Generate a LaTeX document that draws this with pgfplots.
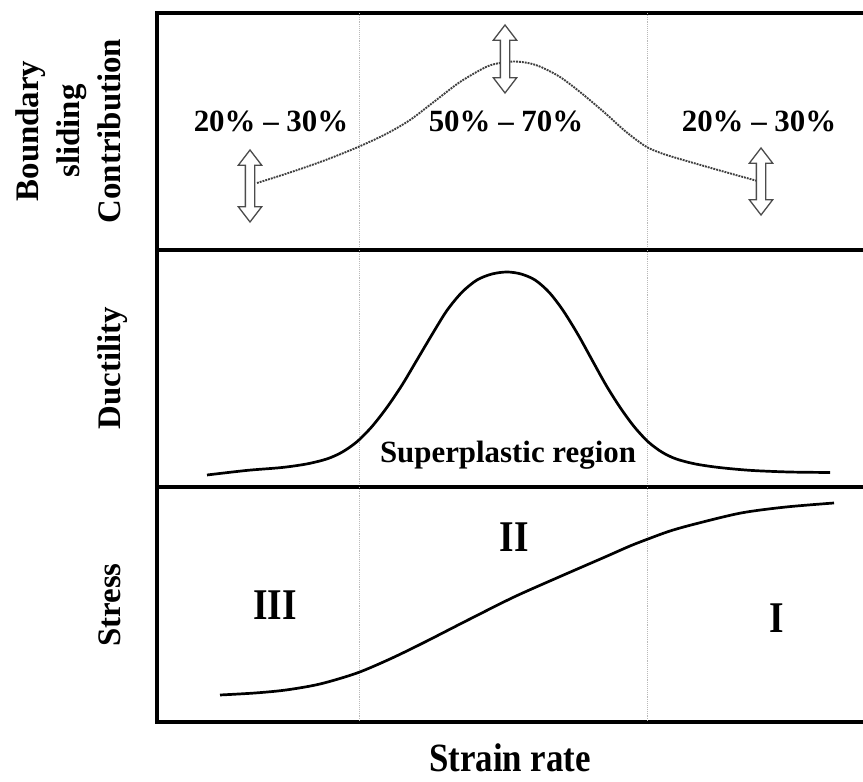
\documentclass[border=0pt]{standalone}
\usepackage{fontspec}
\setmainfont{Liberation Serif}
\usepackage{pgfplots}
\pgfplotsset{compat=1.18}
\usetikzlibrary{shapes.arrows}

\begin{document}
\begin{tikzpicture}[x=1bp,y=1bp]
\path[use as bounding box] (0,0) rectangle (863,782);
\pgfplotsset{
  panel/.style={scale only axis, width=713bp, xmin=157, xmax=870,
    y dir=reverse, xtick=\empty, ytick=\empty, anchor=south west,
    axis line style={line width=3.2bp, black}},
  vline/.style={gray!55, densely dotted, line width=0.9bp},
  curve/.style={smooth, black, line width=2.7bp},
}
\tikzset{
  dbl/.style={double arrow, draw=gray!60!black, fill=white, line width=1.3bp,
    rotate=90, inner sep=4bp, double arrow head extend=7bp,
    double arrow tip angle=75},
  lab/.style={font=\bfseries\fontsize{31}{37}\selectfont},
  ylab/.style={font=\bfseries\fontsize{33}{39}\selectfont, rotate=90, anchor=base},
}
% ---------- top panel ----------
\begin{axis}[panel, at={(157bp,532bp)}, height=237bp, ymin=13, ymax=250]
\addplot[vline] coordinates {(359,13) (359,250)};
\addplot[vline] coordinates {(647,13) (647,250)};
\addplot[smooth, densely dotted, line width=1.9bp, gray!50!black] coordinates {
 (257,183) (290,172.5) (323,161) (357,147.5) (386,134) (410,120) (435,101)
 (460,82) (486,67) (500,63) (514,61.5) (528,63) (541,67) (560,77) (580,92)
 (605,113) (625,131) (645,146) (658,152) (673,157) (718,170) (761,182)};
\node[dbl, minimum height=72bp] at (axis cs:250,186) {};
\node[dbl, minimum height=68bp] at (axis cs:505,59) {};
\node[dbl, minimum height=67bp] at (axis cs:761,181.5) {};
\node[lab, anchor=base] at (axis cs:271,132) {20\% -- 30\%};
\node[lab, anchor=base] at (axis cs:506,132) {50\% -- 70\%};
\node[lab, anchor=base] at (axis cs:759,132) {20\% -- 30\%};
\end{axis}
% ---------- middle panel ----------
\begin{axis}[panel, at={(157bp,295bp)}, height=237bp, ymin=250, ymax=487]
\addplot[vline] coordinates {(359,250) (359,487)};
\addplot[vline] coordinates {(647,250) (647,487)};
\addplot[curve] coordinates {
 (207,475) (247,470.4) (282,467.5) (307,463.9) (327,458.9) (342,452.2)
 (357,441.7) (372,426.5) (387,407.3) (402,385.1) (417,359.9) (432,334.6)
 (447,310.4) (462,292.2) (477,280) (492,274) (507,272) (521,274) (535,280)
 (549,292.2) (563,310.4) (578,334.6) (592,359.9) (606,385.1) (620,407.3)
 (634,426.5) (648,441.7) (662,452.2) (676,458.9) (695,463.9) (719,467.5)
 (751,470.4) (789,472) (830,472.5)};
\node[lab, anchor=base] at (axis cs:508,463) {Superplastic region};
\end{axis}
% ---------- bottom panel ----------
\begin{axis}[panel, at={(157bp,60bp)}, height=235bp, ymin=487, ymax=722]
\addplot[vline] coordinates {(359,487) (359,722)};
\addplot[vline] coordinates {(647,487) (647,722)};
\addplot[curve] coordinates {
 (220,695) (255,693) (286,690) (320,684) (357,673) (390,659) (423,643)
 (468,620) (514,597) (559,577) (605,557) (630,546) (648,539) (670,531)
 (695,524) (741,513) (786,507) (834,503)};
\node[font=\bfseries\fontsize{44}{50}\selectfont, anchor=base, xscale=0.85] at (axis cs:514,552) {II};
\node[font=\bfseries\fontsize{44}{50}\selectfont, anchor=base, xscale=0.85] at (axis cs:275,620) {III};
\node[font=\bfseries\fontsize{44}{50}\selectfont, anchor=base, xscale=0.85] at (axis cs:777,633) {I};
\end{axis}
% ---------- outer labels ----------
\node[ylab] at (38,651) {Boundary};
\node[ylab] at (79,651) {sliding};
\node[ylab] at (120,651) {Contribution};
\node[ylab] at (120,414) {Ductility};
\node[ylab] at (120,177) {Stress};
\node[font=\bfseries\fontsize{35}{40}\selectfont, anchor=base, yscale=1.15, inner sep=0pt] at (510,10) {Strain rate};
\end{tikzpicture}
\end{document}
